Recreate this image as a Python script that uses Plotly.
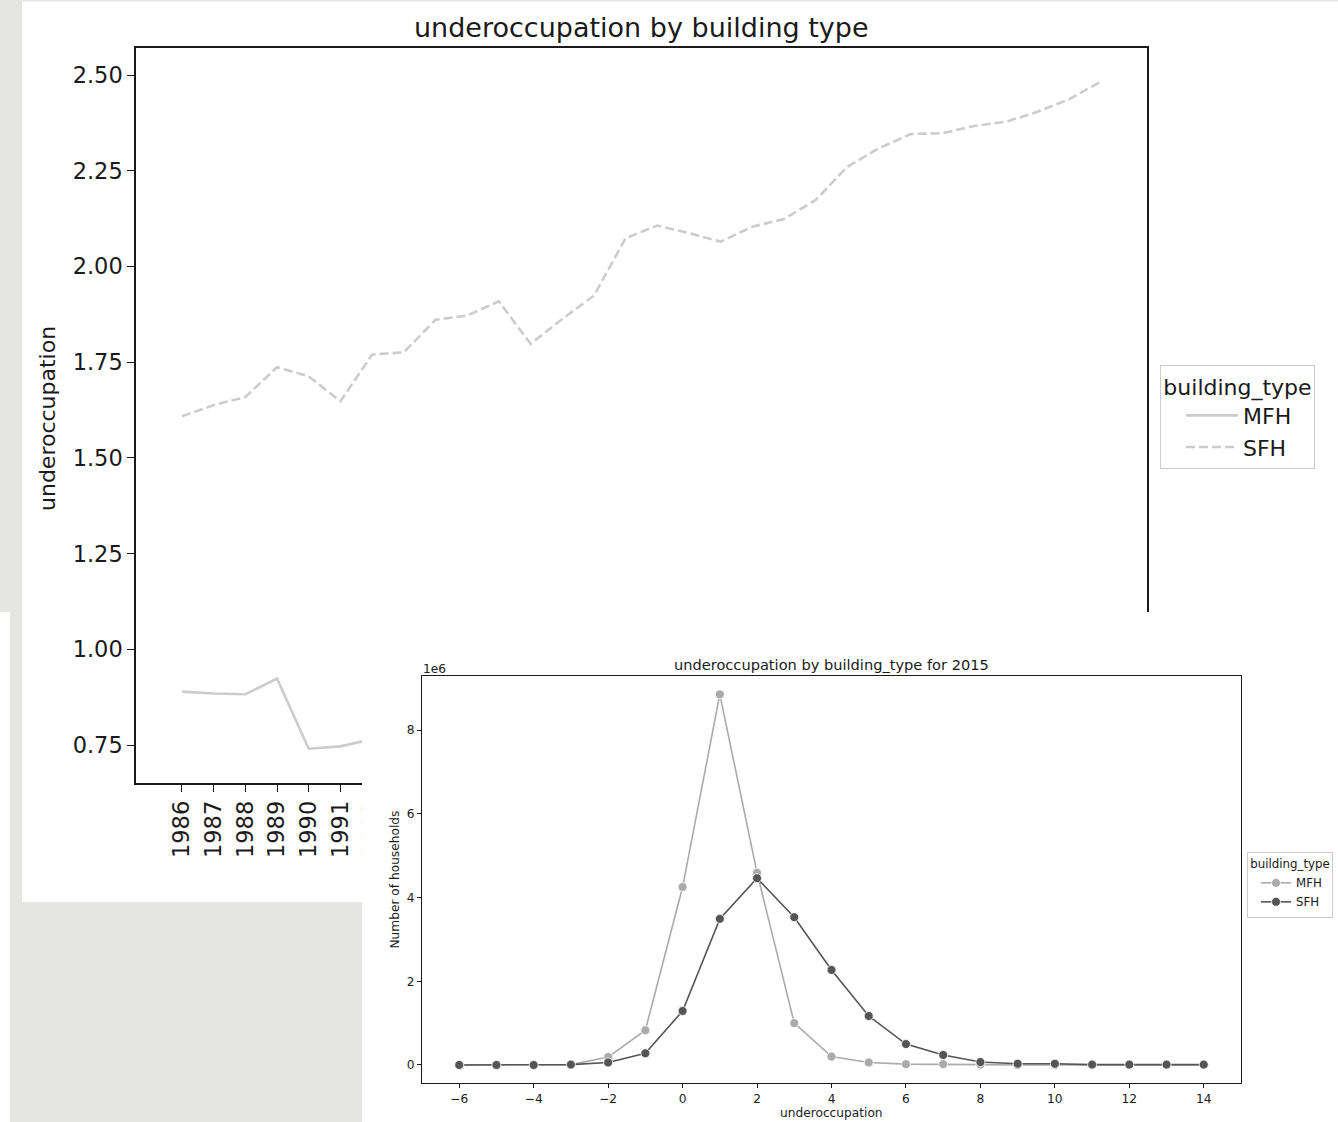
import plotly.graph_objects as go

# ---------------- data: top chart (mean underoccupation per survey year) ----------------
years = list(range(1986, 2016))
sfh_underocc = [1.609, 1.638, 1.659, 1.737, 1.713, 1.648, 1.770, 1.776, 1.861, 1.872,
                1.909, 1.798, 1.863, 1.924, 2.074, 2.107, 2.087, 2.065, 2.104, 2.124,
                2.174, 2.261, 2.309, 2.346, 2.348, 2.367, 2.378, 2.404, 2.437, 2.483]
# only the part of the MFH series that is visible (the rest is hidden by the inset chart)
mfh_years = [1986, 1987, 1988, 1989, 1990, 1991, 1992]
mfh_underocc = [0.890, 0.885, 0.883, 0.924, 0.741, 0.747, 0.766]

# ---------------- data: bottom chart (households by underoccupation, 2015) ----------------
levels = list(range(-6, 15))
mfh_households_m = [0, 0, 0, 0.01, 0.19, 0.83, 4.25, 8.85, 4.59, 1.00, 0.20,
                    0.06, 0.02, 0.02, 0.01, 0, 0, 0, 0, 0, 0]
sfh_households_m = [0, 0, 0, 0.01, 0.06, 0.28, 1.29, 3.49, 4.46, 3.53, 2.27,
                    1.17, 0.50, 0.24, 0.07, 0.03, 0.03, 0.01, 0.01, 0.01, 0.01]
y_tick_millions = [0, 2, 4, 6, 8]

# ---------------- layout helpers ----------------
W, H = 1338, 1122


def px_x(p):
    return p / W


def px_y(p):
    return 1 - p / H


FONT = "DejaVu Sans"
TXT = "#1a1a1a"
GREY = "#e5e5e3"
TOP_FS = 22.5
TOP_TITLE_FS = 27
BOT_FS = 12.2
BOT_TITLE_FS = 14.6

fig = go.Figure()

# top chart
fig.add_trace(go.Scatter(
    x=mfh_years, y=mfh_underocc, mode="lines", name="MFH",
    line=dict(color="#cccccc", width=2.6),
    xaxis="x", yaxis="y", legend="legend", hoverinfo="skip"))
fig.add_trace(go.Scatter(
    x=years, y=sfh_underocc, mode="lines", name="SFH",
    line=dict(color="#cccccc", width=2.6, dash="9px,4px"),
    xaxis="x", yaxis="y", legend="legend", hoverinfo="skip"))

# empty placeholder so that the white panel of the inset image exists as a subplot
fig.add_trace(go.Scatter(
    x=[None], y=[None], mode="lines", showlegend=False,
    xaxis="x2", yaxis="y2", hoverinfo="skip"))

# bottom (inset) chart
mfh_counts = [v * 1e6 for v in mfh_households_m]
sfh_counts = [v * 1e6 for v in sfh_households_m]
fig.add_trace(go.Scatter(
    x=levels, y=mfh_counts, mode="lines+markers", name="MFH",
    line=dict(color="#aaaaaa", width=1.6),
    marker=dict(color="#aaaaaa", size=9, line=dict(color="white", width=0.8)),
    xaxis="x3", yaxis="y3", legend="legend2", hoverinfo="skip"))
fig.add_trace(go.Scatter(
    x=levels, y=sfh_counts, mode="lines+markers", name="SFH",
    line=dict(color="#555555", width=1.6),
    marker=dict(color="#555555", size=9, line=dict(color="white", width=0.8)),
    xaxis="x3", yaxis="y3", legend="legend2", hoverinfo="skip"))

axis_common = dict(showgrid=False, zeroline=False, showline=True, mirror=True,
                   ticks="outside", fixedrange=True)

hidden_axis = dict(showgrid=False, zeroline=False, showline=False, ticks="",
                   showticklabels=False, range=[0, 1], fixedrange=True)

fig.update_layout(
    width=W, height=H,
    margin=dict(l=0, r=0, t=0, b=0, autoexpand=False),
    paper_bgcolor="white", plot_bgcolor="white",
    font=dict(family=FONT, color=TXT),
    showlegend=True,
    # top chart axes
    xaxis=dict(domain=[px_x(136), px_x(1147)], anchor="y",
               range=[1984.55, 2016.45], tickvals=years, tickangle=-90,
               ticklen=7, tickwidth=1.3, tickcolor=TXT, linecolor=TXT, linewidth=1.5,
               tickfont=dict(size=TOP_FS, family=FONT, color=TXT), **axis_common),
    yaxis=dict(domain=[px_y(783), px_y(48)], anchor="x",
               range=[0.6514, 2.5705], tick0=0, dtick=0.25, tickformat=".2f",
               ticklen=7, tickwidth=1.3, tickcolor=TXT, linecolor=TXT, linewidth=1.5,
               tickfont=dict(size=TOP_FS, family=FONT, color=TXT), **axis_common),
    # white panel of the inset image (covers the top chart)
    xaxis2=dict(domain=[px_x(362), 1], anchor="y2", **hidden_axis),
    yaxis2=dict(domain=[0, px_y(612)], anchor="x2", **hidden_axis),
    # inset chart axes
    xaxis3=dict(domain=[px_x(422), px_x(1241)], anchor="y3",
                range=[-7, 15], tick0=0, dtick=2,
                ticklen=4, tickwidth=1, tickcolor=TXT, linecolor=TXT, linewidth=1,
                tickfont=dict(size=BOT_FS, family=FONT, color=TXT), **axis_common),
    yaxis3=dict(domain=[px_y(1083), px_y(676)], anchor="x3",
                range=[-0.43e6, 9.29e6],
                tickvals=[v * 1e6 for v in y_tick_millions],
                ticktext=[str(v) for v in y_tick_millions],
                ticklen=4, tickwidth=1, tickcolor=TXT, linecolor=TXT, linewidth=1,
                tickfont=dict(size=BOT_FS, family=FONT, color=TXT), **axis_common),
    legend=dict(x=px_x(1160), y=px_y(365), xanchor="left", yanchor="top",
                bgcolor="white", bordercolor="#cccccc", borderwidth=1,
                font=dict(size=TOP_FS - 0.5, family=FONT, color=TXT),
                title=dict(text="building_type", side="top center",
                           font=dict(size=TOP_FS - 0.5, family=FONT, color=TXT)),
                itemwidth=52, indentation=20),
    legend2=dict(x=px_x(1247), y=px_y(852), xanchor="left", yanchor="top",
                 bgcolor="white", bordercolor="#cccccc", borderwidth=1,
                 font=dict(size=BOT_FS - 0.4, family=FONT, color=TXT),
                 title=dict(text="building_type", side="top center",
                            font=dict(size=BOT_FS - 0.4, family=FONT, color=TXT)),
                 itemwidth=30, indentation=8),
)

# grey screen background around the two pasted images
shapes = [
    dict(x0=0, x1=22, y0=0, y1=612),
    dict(x0=10, x1=22, y0=612, y1=902),
    dict(x0=10, x1=362, y0=902, y1=1122),
    dict(x0=22, x1=1338, y0=0, y1=1.5),
]
for s in shapes:
    fig.add_shape(type="rect", xref="paper", yref="paper",
                  x0=px_x(s["x0"]), x1=px_x(s["x1"]),
                  y0=px_y(s["y1"]), y1=px_y(s["y0"]),
                  fillcolor=GREY, line=dict(width=0), layer="below")

annots = [
    dict(text="underoccupation by building type", x=641.5, y=28, size=TOP_TITLE_FS, angle=0, xanchor="center"),
    dict(text="underoccupation", x=47, y=419, size=TOP_FS - 0.5, angle=-90, xanchor="center"),
    dict(text="underoccupation by building_type for 2015", x=831.5, y=664, size=BOT_TITLE_FS, angle=0, xanchor="center"),
    dict(text="Number of households", x=394, y=879.5, size=BOT_FS, angle=-90, xanchor="center"),
    dict(text="underoccupation", x=831.5, y=1113, size=BOT_FS, angle=0, xanchor="center"),
    dict(text="1e6", x=421, y=669, size=BOT_FS, angle=0, xanchor="left"),
]
for a in annots:
    fig.add_annotation(text=a["text"], xref="paper", yref="paper",
                       x=px_x(a["x"]), y=px_y(a["y"]), showarrow=False,
                       xanchor=a["xanchor"], yanchor="middle", textangle=a["angle"],
                       font=dict(size=a["size"], family=FONT, color=TXT))

fig.write_html("out.html", config={"displayModeBar": False},
               post_script="document.body.style.margin='0';")
